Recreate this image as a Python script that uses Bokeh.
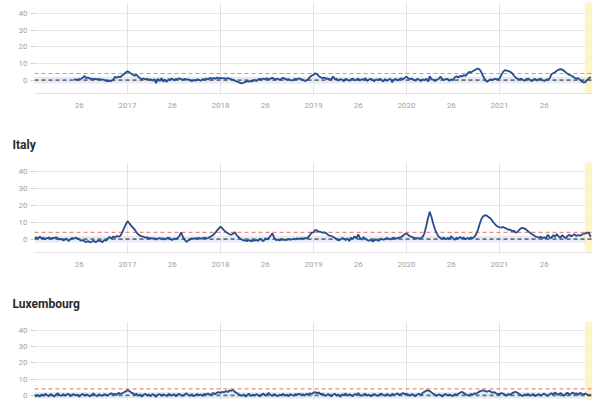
from bokeh.plotting import figure
from bokeh.models import Range1d, FixedTicker, BoxAnnotation, Span, ColumnDataSource
from bokeh.layouts import column
from bokeh.embed import file_html
from bokeh.resources import INLINE
import numpy as np

# ---------------- data (weekly z-scores) ----------------
years = [2016, 2017, 2018, 2019, 2020, 2021]
weeks_per_year = 52
mid_week_label = "26"

# top panel (title above the visible area); series starts at 2016 week 23
top_start_year, top_start_week = 2016, 23
top_2016 = [0.3, 0.5, 0.2, 0.6, 0.8, 1.5, 2.6, 1.2, 1.6, 0.8, 0.9, 0.6, 0.8, 0.5, 0.7,
            0.3, 0.4, 0.1, -0.5, -0.6, -0.3, -0.5, 0.2, 2.0, 1.5, 2.2, 1.8, 2.8, 3.5, 4.6]
top_2017 = [5.4, 4.8, 3.9, 3.2, 2.6, 3.4, 2.0, 1.2, 0.6, 1.0, 0.4, 0.8, 0.2, 0.5, -0.3, 0.6,
            -1.8, 0.8, -0.5, 1.2, -0.8, 0.3, -1.0, 0.6, 0.2, 1.0, -0.2, 0.8, 0.4, 1.2, 0.6, 0.2,
            0.8, 0.3, 0.5, 0.0, -0.6, 0.2, -0.3, 0.5, 0.2, -0.4, 0.6, 0.3, 1.0, 0.4, 1.4, 0.8,
            1.2, 0.9, 1.6, 1.0]
top_2018 = [1.4, 1.0, 1.3, 0.8, 1.2, 0.9, 0.6, 0.2, -0.3, -0.8, -1.2, -1.6, -2.0, -1.4, -1.0,
            -0.6, -0.9, -0.4, -0.7, 0.2, -0.5, 0.4, 0.8, 0.3, 1.0, 0.6, 1.2, 0.4, 0.9, 1.4, 0.7,
            0.5, 0.9, 0.2, 0.6, 1.5, 0.8, 0.3, 0.6, 0.1, -0.2, 0.3, 0.8, 0.5, 1.2, 0.6, 0.2,
            -0.4, -0.2, 0.6, 1.8, 2.8]
top_2019 = [3.2, 4.2, 3.6, 2.4, 1.8, 1.2, 1.6, 0.8, 1.0, 0.4, 0.6, 2.2, 0.5, 0.8, -0.2, 0.6,
            0.2, -0.6, 0.8, 0.3, -0.4, 0.5, 1.0, -0.2, 0.4, 0.9, -0.3, 0.6, 0.1, 1.2, -0.5, 0.4,
            0.8, 0.2, -0.6, 0.5, 0.0, 0.9, 0.3, -0.8, 0.6, -0.4, 0.2, 0.8, -1.2, 0.4, 0.7, -0.2,
            0.6, 1.2, 0.5, 1.4]
top_2020 = [2.0, 1.2, 0.6, 0.9, 0.2, -0.4, 0.8, 0.3, -0.6, 0.5, 0.0, 0.8, -0.8, 2.4, 0.6, 0.2,
            -0.5, 0.4, 0.7, 2.2, 0.6, 0.2, 0.6, 0.8, -0.4, 0.5, 0.0, 1.8, 2.4, 1.6, 2.6, 2.2,
            3.0, 2.6, 3.8, 5.0, 4.6, 5.4, 6.0, 6.6, 7.0, 6.2, 4.4, 2.0, 0.2, -1.0, -0.2, 0.5,
            0.2, 0.6, 0.8, 0.4]
top_2021 = [1.0, 3.0, 5.0, 6.0, 5.8, 5.4, 5.0, 4.2, 2.8, 1.6, 0.8, 0.4, 0.9, 0.2, -0.4, 0.6,
            1.0, 0.2, -0.6, 0.4, 0.8, -0.2, 0.5, 0.9, 0.1, -0.5, 0.3, 0.4, 1.0, 3.5, 4.2, 4.8,
            5.6, 6.2, 6.6, 6.4, 5.6, 4.8, 3.8, 3.2, 2.8, 2.2, 1.4, 0.8, 1.2, 0.2, -0.8, -1.4,
            -1.2, 0.2, 1.0, 2.0]

italy_2016 = [0.4, 1.0, 0.2, 1.4, 0.3, 0.8, -0.2, 0.6, 0.9, 0.2, 0.7, 0.4, 1.1, 0.5, -0.3, 0.2,
              -0.8, -0.4, 0.3, -1.2, -0.2, 0.6, 0.3, 0.8, 0.4, -0.3, -0.9, -0.6, -1.4, -1.8,
              -1.2, -2.0, -1.6, -1.0, -1.8, -1.4, -0.8, -1.2, -1.9, -0.6, -1.0, 0.4, 1.2, 0.2,
              1.6, 0.8, 1.8, 1.4, 2.0, 3.8, 6.2, 8.6]
italy_2017 = [10.6, 9.4, 8.0, 6.8, 5.6, 4.0, 2.8, 2.0, 1.6, 1.4, 0.8, 1.0, 0.4, 0.6, 0.2, 0.5,
              -0.2, 0.3, 0.6, 0.1, 0.4, -0.3, 0.5, 0.8, 0.2, -0.6, 0.4, 0.0, 0.6, 1.8, 4.0, 1.2,
              -0.4, -1.8, -0.8, -0.2, 0.4, 0.1, 0.6, 0.3, 0.8, 0.2, 0.5, 0.9, 0.4, 0.6, 1.2, 1.8,
              2.6, 3.6, 5.0, 6.2]
italy_2018 = [7.4, 6.4, 5.2, 4.2, 3.6, 2.8, 2.6, 3.2, 4.0, 2.4, 1.2, 0.2, -0.4, -0.8, -1.0, -1.2,
              -0.6, -1.4, -0.8, -1.0, -0.4, -1.2, 0.2, -0.6, -1.4, 0.4, -0.2, 0.6, 2.0, 3.4, 0.8,
              -0.6, -0.4, -0.8, -0.2, -0.5, -0.3, -0.6, 0.0, -0.4, -0.2, 0.2, -0.3, 0.4, 0.0, 0.5,
              0.3, 0.6, 0.4, 1.0, 2.4, 3.8]
italy_2019 = [4.0, 5.4, 5.0, 4.4, 4.2, 3.8, 4.0, 3.6, 2.6, 2.0, 1.8, 1.2, 0.6, -0.2, -0.8, -0.4,
              0.6, 0.2, -0.6, 0.4, -1.2, 0.8, 0.2, 1.6, 0.4, 2.8, 0.6, -0.4, 1.2, 0.0, -0.6, -1.0,
              -0.4, -1.4, -0.8, -0.2, -1.0, -0.6, 0.2, -0.4, 0.0, 0.6, 0.2, -0.3, 0.4, 0.8, 0.2,
              0.6, 0.9, 1.2, 2.0, 2.8]
italy_2020 = [3.4, 2.4, 1.6, 1.2, 0.8, 0.4, 0.6, 0.2, 0.6, 1.2, 3.2, 7.6, 12.4, 16.2, 13.0, 9.0,
              5.6, 3.2, 1.4, 0.6, 0.4, 0.8, -0.2, 0.6, 0.2, 1.6, 0.4, -0.4, 0.8, 0.2, 1.2, 0.4,
              0.8, -0.2, 0.6, 0.2, 0.9, 0.6, 1.4, 3.0, 5.6, 9.2, 12.2, 13.6, 14.2, 13.8, 13.0,
              12.2, 10.8, 9.4, 8.2, 7.4]
italy_2021 = [7.0, 6.8, 7.2, 6.6, 6.2, 5.4, 5.8, 4.6, 5.0, 3.8, 4.2, 5.4, 6.4, 6.6, 6.2, 5.6,
              4.6, 3.8, 3.0, 2.4, 1.6, 1.2, 0.8, 1.4, 0.6, 1.0, 0.4, 2.6, 1.0, 0.6, 2.4, 1.2,
              3.0, 1.6, 0.8, 2.2, 1.4, 0.4, 1.8, 2.6, 1.6, 2.2, 2.8, 1.8, 2.4, 2.0, 2.6, 3.0,
              3.4, 3.8, 3.6, 1.2]

lux_2016 = [0.4, -0.6, 0.2, -0.8, 0.6, -0.3, 0.9, 0.1, -0.5, 0.7, 0.3, -0.9, 0.5, 1.2, 0.2, -0.4,
            0.8, -0.2, 0.4, 1.0, -0.6, 0.3, 0.7, -0.1, 0.5, -0.8, 0.2, 0.9, -0.3, 0.6, 0.1, -0.7,
            0.4, 1.1, 0.0, -0.5, 0.6, 0.2, -0.4, 0.8, 0.3, -0.2, 0.7, 1.3, 0.4, 0.9, 0.2, 1.5,
            0.8, 1.2, 1.9, 2.4]
lux_2017 = [3.2, 2.6, 1.8, 1.2, 0.4, 1.0, -0.4, 0.6, -0.8, 0.3, 0.9, -0.2, 0.5, -0.6, 0.8, 0.1,
            -0.9, 0.4, 0.7, -0.3, 0.6, 0.2, -0.5, 1.0, 0.3, -0.2, 0.8, -0.6, 0.4, 0.9, 0.0, -0.4,
            0.6, 1.2, 0.2, -0.3, 0.7, -0.7, 0.3, 0.8, 0.1, 0.5, -0.4, 0.9, 0.4, 1.1, 0.2, 0.8,
            1.4, 0.6, 1.6, 2.0]
lux_2018 = [1.4, 2.2, 1.8, 2.6, 2.0, 3.0, 2.8, 3.2, 2.2, 1.4, 0.8, 0.2, -0.4, 0.6, -0.8, 0.3,
            0.9, -0.5, 0.4, -0.2, 0.7, 0.1, -0.6, 0.5, 1.0, -0.3, 0.6, 1.4, 0.2, -0.4, 0.8, 0.3,
            -0.7, 0.5, 0.1, 0.9, -0.2, 0.4, -0.6, 0.7, 0.2, -0.3, 0.8, 0.4, 1.0, 0.3, 0.6, -0.1,
            0.9, 0.5, 1.2, 0.8]
lux_2019 = [1.6, 2.0, 1.2, 1.8, 0.6, 1.0, 0.2, -0.4, 0.8, 0.3, -0.6, 0.5, 0.9, -0.2, 0.4, -0.8,
            0.6, 0.2, 1.1, -0.3, 0.7, 0.0, -0.5, 0.8, 0.3, 1.4, 0.2, -0.4, 0.6, 0.9, -0.2, 0.5,
            -0.7, 0.3, 0.8, 0.1, -0.4, 0.6, 1.0, 0.2, -0.3, 0.7, 0.4, -0.5, 0.9, 0.3, 0.6, 1.2,
            0.2, 0.8, 1.4, 0.6]
lux_2020 = [1.0, 0.4, -0.3, 0.8, 0.2, -0.6, 0.5, 0.9, 0.1, 1.4, 2.2, 2.8, 3.0, 2.6, 1.8, 0.9,
            0.3, -0.4, 0.6, 0.1, -0.7, 0.4, 0.8, -0.2, 0.5, 0.0, -0.5, 0.7, 0.3, 1.0, 1.6, 2.2,
            1.4, 0.6, 0.2, -0.3, 0.8, 0.4, 1.2, 0.9, 1.8, 2.4, 2.8, 3.0, 2.6, 2.2, 2.8, 2.4,
            1.6, 2.0, 1.2, 0.8]
lux_2021 = [0.6, 1.4, 1.0, 0.4, -0.2, 0.8, 0.3, 1.2, 1.8, 2.2, 1.6, 0.8, 0.2, -0.5, 0.6, 0.1,
            0.9, -0.3, 0.4, 0.8, -0.6, 0.3, 0.7, -0.2, 0.5, 1.0, 0.2, -0.4, 0.6, 1.2, 0.4, 1.8,
            0.9, 0.3, 1.4, 0.6, -0.3, 0.8, 1.6, 0.4, 1.0, 1.8, 0.7, 1.3, 0.2, 1.5, 0.9, 0.3,
            1.1, 0.5, -0.2, 0.4]

y_ticks = [0, 10, 20, 30, 40]
baseline_z = 0
substantial_z = 4
normal_band = (-2, 2)
provisional_start_week_2021 = 49   # yellow (delay-affected) weeks

# ---------------- helpers ----------------
total_weeks = len(years) * weeks_per_year


def week_index(year, week):
    return (year - years[0]) * weeks_per_year + (week - 1)


def series(start_year, start_week, chunks):
    vals = [v for c in chunks for v in c]
    x0 = week_index(start_year, start_week)
    return ColumnDataSource(dict(x=x0 + np.arange(len(vals)), z=vals))


tick_pos, tick_lab = [], {}
for y in years:
    if y != years[0]:
        tick_pos.append(week_index(y, 1))
        tick_lab[week_index(y, 1)] = str(y)
    tick_pos.append(week_index(y, 26))
    tick_lab[week_index(y, 26)] = mid_week_label
year_grid = [week_index(y, 1) for y in years[1:]]

LINE = "#264d8c"
TICK_TXT = "#a2a2a2"
GRID = "#e6e6e6"
FONT = "Roboto"


def make_panel(title, src, y0, y1, frame_h, top_border, bottom_border, show_x=True):
    p = figure(frame_width=558, frame_height=frame_h,
               x_range=Range1d(0, total_weeks), y_range=Range1d(y0, y1),
               output_backend="svg", toolbar_location=None, title=title,
               min_border_left=34, min_border_right=0,
               min_border_top=top_border, min_border_bottom=bottom_border,
               background_fill_color="white", border_fill_color="white")
    p.outline_line_color = None
    if title:
        p.title.text_font = FONT
        p.title.text_font_size = "12px"
        p.title.text_font_style = "bold"
        p.title.text_color = "#2a2a2a"
        p.title.align = "left"
        p.title.offset = -22
        p.title.standoff = 22

    p.xaxis.ticker = FixedTicker(ticks=tick_pos)
    p.xaxis.major_label_overrides = tick_lab
    p.xaxis.major_tick_line_color = None
    p.xaxis.minor_tick_line_color = None
    p.xaxis.axis_line_color = "#e2e2e2"
    p.xaxis.major_label_text_font = FONT
    p.xaxis.major_label_text_font_size = "8px"
    p.xaxis.major_label_text_color = TICK_TXT
    p.xaxis.major_label_standoff = 3
    p.xaxis.visible = show_x

    p.yaxis.ticker = FixedTicker(ticks=y_ticks)
    p.yaxis.axis_line_color = None
    p.yaxis.major_tick_in = 0
    p.yaxis.major_tick_out = 4
    p.yaxis.major_tick_line_color = "#cfcfcf"
    p.yaxis.minor_tick_line_color = None
    p.yaxis.major_label_text_font = FONT
    p.yaxis.major_label_text_font_size = "8px"
    p.yaxis.major_label_text_color = TICK_TXT
    p.yaxis.major_label_standoff = 3

    p.xgrid.ticker = FixedTicker(ticks=year_grid)
    p.xgrid.grid_line_color = "#e2e2e2"
    p.ygrid.grid_line_color = GRID

    p.add_layout(BoxAnnotation(bottom=normal_band[0], top=normal_band[1],
                               fill_color="#dfe8f5", fill_alpha=0.85,
                               line_color=None, level="underlay"))
    p.add_layout(BoxAnnotation(left=week_index(2021, provisional_start_week_2021),
                               fill_color="#fff4c6", fill_alpha=1.0,
                               line_color="#fbe8a6", line_width=1, level="underlay"))
    p.add_layout(Span(location=substantial_z, dimension="width", line_color="#f08a78",
                      line_dash="4 3", line_width=1.2, level="underlay"))
    p.add_layout(Span(location=baseline_z, dimension="width", line_color="#707070",
                      line_dash="4 3", line_width=1.8, level="underlay"))
    p.line("x", "z", source=src, line_color=LINE, line_width=1.8)
    return p


top_src = series(top_start_year, top_start_week,
                 [top_2016, top_2017, top_2018, top_2019, top_2020, top_2021])
italy_src = series(2016, 1, [italy_2016, italy_2017, italy_2018, italy_2019, italy_2020, italy_2021])
lux_src = series(2016, 1, [lux_2016, lux_2017, lux_2018, lux_2019, lux_2020, lux_2021])

p1 = make_panel(None, top_src, -8, 46.6, 91, 2, 30)
p2 = make_panel("Italy", italy_src, -8, 45.5, 90, 39, 30)
p3 = make_panel("Luxembourg", lux_src, -3.2, 45.4, 79, 39, 0, show_x=False)

layout = column(p1, p2, p3, spacing=0)
open("out.html", "w").write(file_html(layout, INLINE))
